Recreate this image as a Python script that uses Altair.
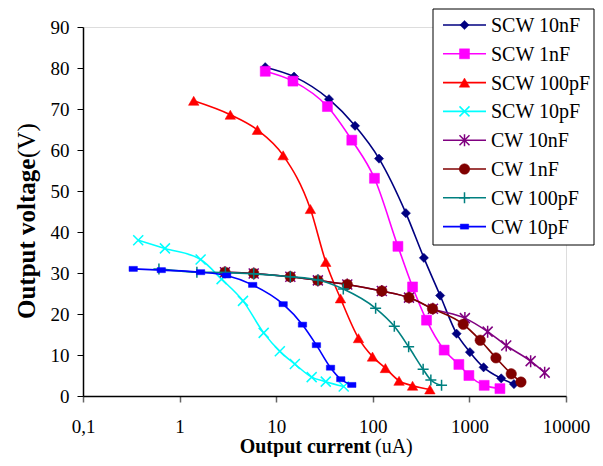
import altair as alt
import pandas as pd

# ---------------- data ----------------
series_names = ["SCW 10nF", "SCW 1nF", "SCW 100pF", "SCW 10pF",
                "CW 10nF", "CW 1nF", "CW 100pF", "CW 10pF"]

scw_10nF_i = [7.7, 15.3, 35.2, 65.5, 116, 220, 338, 498, 737, 1012, 1403, 2135, 2893]
scw_10nF_v = [80.2, 77.9, 72.4, 65.9, 57.9, 44.6, 33.7, 24.5, 15.2, 10.7, 7.0, 4.3, 2.9]

scw_1nF_i = [7.7, 14.9, 33.9, 60.6, 104, 182, 258, 360, 548, 778, 988, 1423, 2070]
scw_1nF_v = [79.2, 76.8, 70.6, 62.4, 53.1, 36.5, 26.6, 18.5, 11.2, 7.7, 5.0, 2.6, 1.8]

scw_100pF_i = [1.40, 3.35, 6.39, 11.8, 22.6, 32.6, 46.3, 71.1, 99.3, 135, 187, 258, 390]
scw_100pF_v = [72.0, 68.6, 64.9, 58.7, 45.6, 32.7, 23.8, 14.1, 9.6, 6.8, 3.7, 2.5, 1.6]

scw_10pF_i = [0.373, 0.705, 1.65, 2.72, 4.53, 7.42, 10.9, 15.6, 23.3, 32.6, 50.0]
scw_10pF_v = [38.0, 36.0, 33.3, 28.5, 23.2, 15.4, 10.9, 7.8, 4.6, 3.5, 2.3]

cw_10nF_i = [2.95, 5.85, 14.0, 27.0, 54.4, 124, 237, 419, 898, 1545, 2406, 4306, 6013]
cw_10nF_v = [30.2, 29.9, 29.1, 28.2, 27.2, 25.6, 24.0, 21.3, 19.0, 15.7, 12.3, 8.5, 5.7]

cw_1nF_i = [2.95, 5.85, 14.0, 27.0, 54.4, 124, 237, 415, 863, 1294, 1883, 2711, 3418]
cw_1nF_v = [30.2, 29.9, 29.1, 28.2, 27.2, 25.6, 24.0, 21.3, 17.5, 13.6, 9.3, 5.4, 3.4]

cw_100pF_i = [0.611, 1.51, 2.98, 5.85, 14.0, 27.1, 49.5, 107, 167, 235, 332, 399, 515]
cw_100pF_v = [31.0, 30.2, 30.1, 29.8, 29.1, 28.3, 26.1, 21.4, 17.0, 12.0, 6.5, 3.9, 2.6]

cw_10pF_i = [0.331, 0.646, 1.65, 3.07, 5.71, 11.8, 18.7, 26.1, 36.5, 46.6, 60.6]
cw_10pF_v = [31.0, 30.7, 30.2, 29.4, 27.1, 22.4, 17.4, 12.4, 6.9, 4.1, 2.7]

x_ticks = [0.1, 1, 10, 100, 1000, 10000]
y_ticks = [0, 10, 20, 30, 40, 50, 60, 70, 80, 90]

series_data = [
    (scw_10nF_i, scw_10nF_v), (scw_1nF_i, scw_1nF_v),
    (scw_100pF_i, scw_100pF_v), (scw_10pF_i, scw_10pF_v),
    (cw_10nF_i, cw_10nF_v), (cw_1nF_i, cw_1nF_v),
    (cw_100pF_i, cw_100pF_v), (cw_10pF_i, cw_10pF_v),
]

# ---------------- styles ----------------
XCROSS = "M-1,-1L1,1M-1,1L1,-1"
ASTER = "M-1,-1L1,1M-1,1L1,-1M0,-1.2L0,1.2"
PLUS = "M-1.1,0L1.1,0M0,-1.1L0,1.1"
RECT = "M-1,-0.6L1,-0.6L1,0.6L-1,0.6Z"
styles = [
    dict(color="#000080", shape="diamond", filled=True, size=85),
    dict(color="#FF00FF", shape="square", filled=True, size=100),
    dict(color="#FF0000", shape="triangle-up", filled=True, size=110),
    dict(color="#00FFFF", shape=XCROSS, filled=False, size=100),
    dict(color="#800080", shape=ASTER, filled=False, size=100),
    dict(color="#800000", shape="circle", filled=True, size=110),
    dict(color="#008080", shape=PLUS, filled=False, size=100),
    dict(color="#0000FF", shape=RECT, filled=True, size=70),
]

FONT = "Liberation Serif"
W, H = 483, 369

xscale = alt.Scale(type="log", domain=[0.1, 10000], nice=False)
yscale = alt.Scale(domain=[0, 90], nice=False)
xaxis = alt.Axis(values=x_ticks, title=None, grid=False,
                 labelExpr="datum.value < 1 ? '0,1' : format(datum.value, 'd')",
                 labelFont=FONT, labelFontSize=19, labelColor="black",
                 labelPadding=15, tickSize=6, tickColor="#666666", tickWidth=1.5,
                 domainColor="black", domainWidth=1.5, labelFlush=False)
yaxis = alt.Axis(values=y_ticks, title=None, grid=False,
                 labelFont=FONT, labelFontSize=19, labelColor="black",
                 labelPadding=8, tickSize=6, tickColor="black", tickWidth=1,
                 domainColor="black", domainWidth=1.5)


def point_props(st):
    kw = dict(shape=st["shape"], size=st["size"], opacity=1, filled=st["filled"])
    if st["filled"]:
        kw.update(fill=st["color"], stroke=st["color"], strokeWidth=0.5)
    else:
        kw.update(stroke=st["color"], strokeWidth=1.5)
    return kw


layers = []
for (xs, ys), st in zip(series_data, styles):
    df = pd.DataFrame({"i": xs, "v": ys})
    enc = dict(x=alt.X("i:Q", scale=xscale, axis=xaxis),
               y=alt.Y("v:Q", scale=yscale, axis=yaxis))
    layers.append(alt.Chart(df).mark_line(color=st["color"], strokeWidth=1.6,
                                          interpolate="monotone").encode(**enc))
    layers.append(alt.Chart(df).mark_point(**point_props(st)).encode(**enc))

# ---------------- legend (box, symbols, labels) ----------------
leg_df = pd.DataFrame({"name": series_names})
layers.append(alt.Chart(leg_df.head(1)).mark_rect(
    fill="white", stroke="black", strokeWidth=1).encode(
    x=alt.value(350), x2=alt.value(511), y=alt.value(-18), y2=alt.value(218)))
for k, (name, st) in enumerate(zip(series_names, styles)):
    ly = -2 + k * 28.8
    one = pd.DataFrame({"name": [name]})
    layers.append(alt.Chart(one).mark_rule(color=st["color"], strokeWidth=1.6).encode(
        x=alt.value(360), x2=alt.value(403), y=alt.value(ly)))
    layers.append(alt.Chart(one).mark_point(**point_props(st)).encode(
        x=alt.value(381.5), y=alt.value(ly)))
    layers.append(alt.Chart(one).mark_text(
        font=FONT, fontSize=20, align="left", baseline="middle", color="black").encode(
        x=alt.value(408), y=alt.value(ly + 1), text="name:N"))

# ---------------- axis titles (bold + normal parts) ----------------
t = pd.DataFrame({"a": [0]})
layers.append(alt.Chart(t).mark_text(
    text="Output current", font=FONT, fontSize=20, fontWeight="bold",
    align="right", baseline="alphabetic", color="black").encode(
    x=alt.value(288), y=alt.value(426)))
layers.append(alt.Chart(t).mark_text(
    text="(uA)", font=FONT, fontSize=20, align="left", baseline="alphabetic",
    color="black").encode(x=alt.value(292), y=alt.value(426)))
# y title: reads upward from the bottom, "(V)" continues above the bold part
YT = 25
layers.append(alt.Chart(t).mark_text(
    text="Output voltage", font=FONT, fontSize=YT, fontWeight="bold",
    align="left", baseline="middle", angle=270, color="black").encode(
    x=alt.value(-56), y=alt.value(292)))
layers.append(alt.Chart(t).mark_text(
    text="(V)", font=FONT, fontSize=YT, align="left", baseline="middle",
    angle=270, color="black").encode(x=alt.value(-56), y=alt.value(131)))

chart = alt.layer(*layers).properties(
    width=W, height=H,
    autosize=alt.AutoSizeParams(type="none"),
    padding={"left": 75, "top": 19, "right": 29, "bottom": 61},
).configure_view(stroke="#808080", strokeWidth=1.5).configure(background="white")

chart.save("out.html", embed_options={"renderer": "svg", "actions": False})
